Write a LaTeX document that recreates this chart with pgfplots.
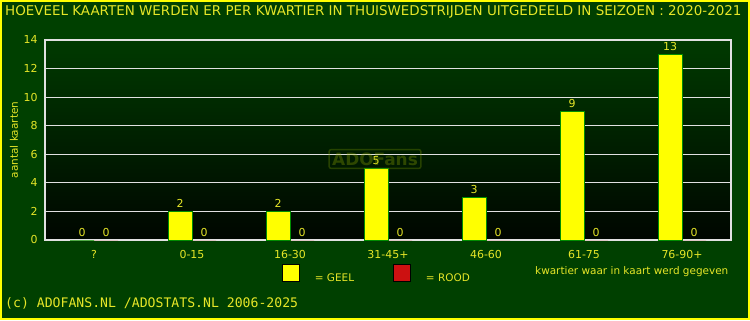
\documentclass[border=0pt]{standalone}
\usepackage{pgfplots}
\pgfplotsset{compat=1.18}
\usepackage{fontspec}
\setmainfont{DejaVu Sans}
\setmonofont{DejaVu Sans Mono}
\definecolor{bggreen}{RGB}{0,64,0}
\definecolor{plottop}{RGB}{0,58,0}
\definecolor{plotbot}{RGB}{0,6,0}
\definecolor{ylw}{RGB}{255,255,0}
\definecolor{txty}{RGB}{230,230,40}
\definecolor{rood}{RGB}{204,17,17}
\definecolor{gridc}{RGB}{225,225,225}
\definecolor{baredge}{RGB}{0,140,0}
\begin{document}
\begin{tikzpicture}[x=1bp,y=1bp]
\fill[bggreen] (0,0) rectangle (750,320);
\draw[ylw, line width=2bp] (1,1) rectangle (749,319);
\node[anchor=west, text=txty, font=\fontsize{13.5}{15}\selectfont, inner sep=0pt] at (5,308) {HOEVEEL KAARTEN WERDEN ER PER KWARTIER IN THUISWEDSTRIJDEN UITGEDEELD IN SEIZOEN : 2020-2021};
\begin{axis}[
  at={(45bp,80bp)}, anchor=south west,
  scale only axis, width=686bp, height=200bp,
  xmin=-0.5, xmax=6.5, ymin=0, ymax=14,
  axis background/.style={top color=plottop, bottom color=plotbot},
  axis line style={gridc, line width=1.2bp},
  ytick={0,2,...,14},
  ymajorgrids, grid style={gridc, line width=1.2bp},
  xtick={0,...,6},
  xticklabels={?,0-15,16-30,31-45+,46-60,61-75,76-90+},
  major tick length=0pt,
  tick label style={text=txty, font=\fontsize{11}{13}\selectfont},
  /pgf/number format/assume math mode=true,
  xticklabel style={yshift=-7bp},
  yticklabel style={xshift=-4bp},
  ybar=0pt, bar width=24bp,
  nodes near coords,
  every node near coord/.append style={text=txty, font=\fontsize{11}{13}\selectfont, /pgf/number format/assume math mode=true},
  legend style={at={(0.341,-0.1725)}, anchor=west, draw=none, fill=none,
    text=txty, font=\fontsize{10.5}{12}\selectfont, legend columns=2,
    /tikz/every odd column/.append style={column sep=13bp},
    /tikz/every even column/.append style={column sep=37bp}},
  legend cell align=left,
]
\addplot[fill=ylw, draw=baredge, line width=1bp,
  legend image code/.code={\draw[fill=ylw, draw=black, line width=0.8bp] (0bp,-4bp) rectangle (17bp,13bp);}]
  coordinates {(0,0) (1,2) (2,2) (3,5) (4,3) (5,9) (6,13)};
\addlegendentry{= GEEL}
\addplot[fill=rood, draw=none,
  legend image code/.code={\draw[fill=rood, draw=black, line width=0.8bp] (0bp,-4bp) rectangle (17bp,13bp);}]
  coordinates {(0,0) (1,0) (2,0) (3,0) (4,0) (5,0) (6,0)};
\addlegendentry{= ROOD}
\end{axis}
\node[rotate=90, text=txty, font=\fontsize{10.5}{12}\selectfont] at (14,180) {aantal kaarten};
\node[draw=ylw!50!bggreen, opacity=0.3, rounded corners=2bp, line width=1.5bp, text=ylw!60!bggreen, font=\bfseries\fontsize{17}{18}\selectfont, inner sep=3bp] at (375,161) {ADOFans};
\node[anchor=west, text=txty, font=\fontsize{10.5}{12}\selectfont, inner sep=0pt] at (535,48) {kwartier waar in kaart werd gegeven};
\node[anchor=west, text=txty, font=\ttfamily\fontsize{13.2}{15}\selectfont, inner sep=0pt] at (5,17) {(c) ADOFANS.NL /ADOSTATS.NL 2006-2025};
\end{tikzpicture}
\end{document}
